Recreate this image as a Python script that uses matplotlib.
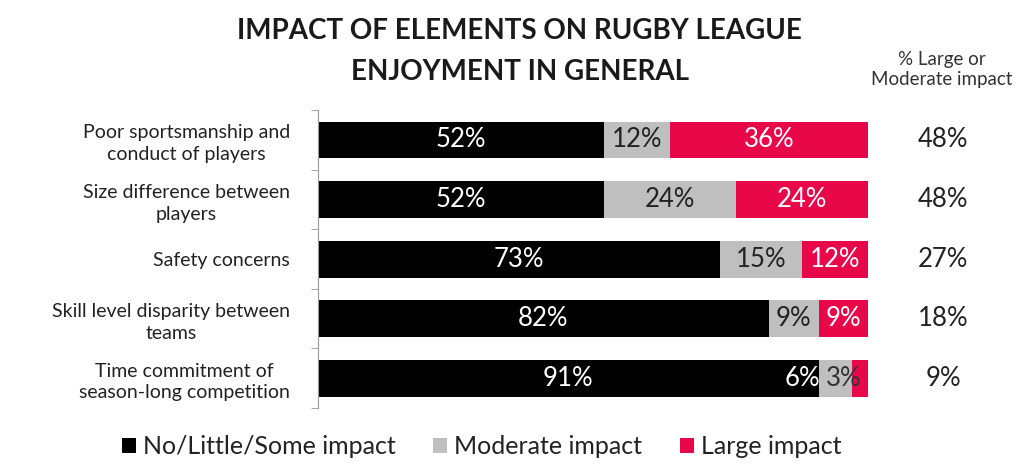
import matplotlib
matplotlib.use('Agg')
import matplotlib.pyplot as plt
import numpy as np
from matplotlib.patches import Patch

plt.rcParams['font.family'] = ['Lato', 'DejaVu Sans']

# survey answers, percent of respondents
categories = [
    'Poor sportsmanship and\nconduct of players',
    'Size difference between\nplayers',
    'Safety concerns',
    'Skill level disparity between\nteams',
    'Time commitment of\nseason-long competition',
]
no_little_some = [52, 52, 73, 82, 91]
moderate = [12, 24, 15, 9, 6]
large = [36, 24, 12, 9, 3]
large_or_moderate = [48, 48, 27, 18, 9]

series_names = ['No/Little/Some impact', 'Moderate impact', 'Large impact']
colors = ['#000000', '#BFBFBF', '#E8084A']
text_colors = ['white', '#222222', 'white']

fig = plt.figure(figsize=(10.25, 4.75), dpi=100)
ax = fig.add_axes([0.310, 0.141, 0.537, 0.627])

y = np.arange(len(categories))
left = np.zeros(len(categories))
for vals, col, tcol in zip([no_little_some, moderate, large], colors, text_colors):
    vals = np.array(vals, dtype=float)
    ax.barh(y, vals, left=left, height=0.62, color=col, edgecolor='none')
    for i, v in enumerate(vals):
        cx = left[i] + v / 2
        ha = 'center'
        c = tcol
        # tiny segments: shift labels so they don't run off the bar
        if v < 5:
            cx = left[i] + v - 1.3
            ha = 'right'
            c = '#333333'
        elif v < 8:
            cx = left[i] + 0.3
            ha = 'right'
            c = 'white'
        ax.text(cx, i, f'{int(v)}%', ha=ha, va='center', fontsize=18.5, color=c)
    left += vals

ax.set_xlim(0, 100)
ax.set_ylim(len(categories) - 0.5, -0.5)
ax.set_xticks([])
ax.set_yticks(y)
ax.set_yticklabels(categories, fontsize=14, color='#222222',
                   multialignment='center', linespacing=1.32)
ax.tick_params(axis='y', which='major', length=0, pad=20)
ax.set_yticks(np.arange(-0.5, len(categories)), minor=True)
ax.tick_params(axis='y', which='minor', length=5, color='#999999')
for s in ['top', 'right', 'bottom']:
    ax.spines[s].set_visible(False)
ax.spines['left'].set_color('#999999')

# right-hand summary column
for i, v in enumerate(large_or_moderate):
    ax.text(1.136, i, f'{v}%', transform=ax.get_yaxis_transform(),
            ha='center', va='center', fontsize=18.5, color='#222222')
fig.text(0.919, 0.853, '% Large or\nModerate impact', ha='center', va='center',
         fontsize=13.5, color='#333333', linespacing=1.2)

fig.text(0.507, 0.892, 'IMPACT OF ELEMENTS ON RUGBY LEAGUE\nENJOYMENT IN GENERAL',
         ha='center', va='center', fontsize=20, fontweight='bold',
         color='#1a1a1a', linespacing=1.7)

handles = [Patch(facecolor=c, edgecolor='none') for c in colors]
fig.legend(handles, series_names, loc='center', bbox_to_anchor=(0.47, 0.059),
           ncol=3, frameon=False, fontsize=18, handlelength=0.55, handleheight=0.55,
           handletextpad=0.3, columnspacing=1.5, labelcolor='#222222')

fig.savefig('out.png', dpi=100, facecolor='white')
